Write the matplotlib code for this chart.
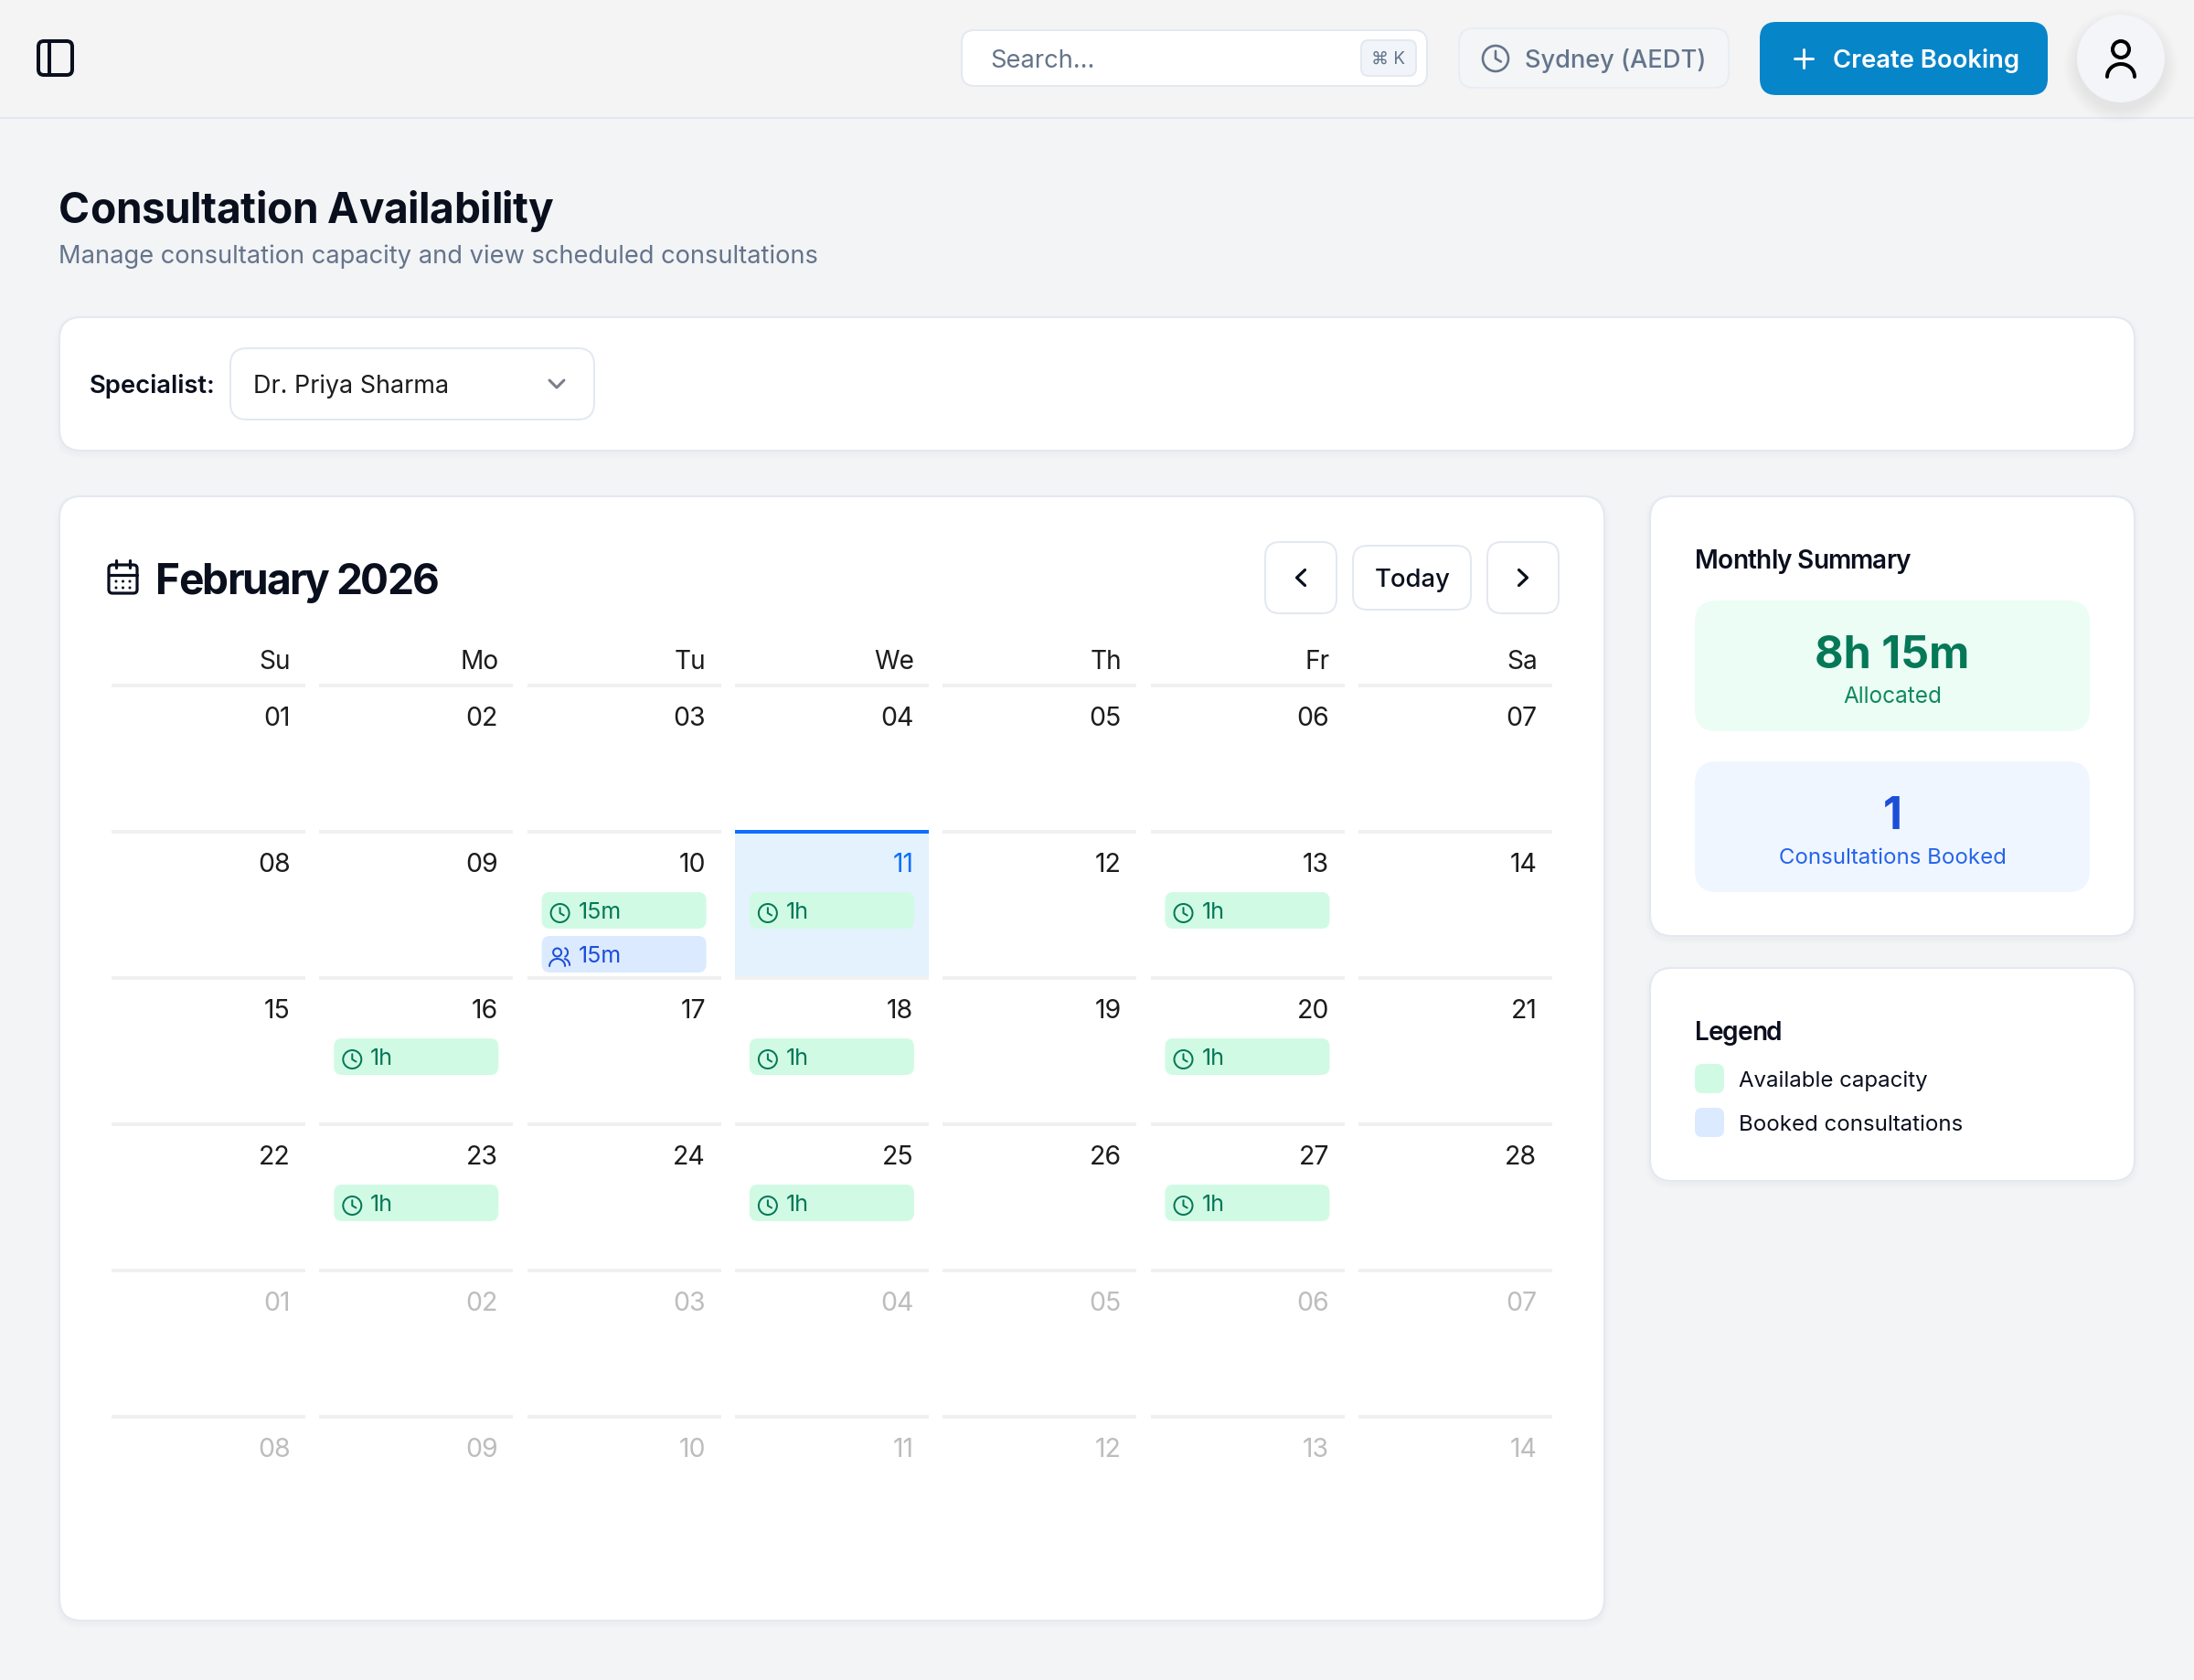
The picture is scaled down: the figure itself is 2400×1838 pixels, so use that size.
import numpy as np
import matplotlib
matplotlib.use("Agg")
import matplotlib.pyplot as plt
from matplotlib.patches import FancyBboxPatch, Circle
from matplotlib.text import Text

plt.rcParams["font.family"] = ["Inter", "DejaVu Sans"]

# ---- data ----
WEEKDAYS = ["Su", "Mo", "Tu", "We", "Th", "Fr", "Sa"]
DAY_ROWS = [
    ["01", "02", "03", "04", "05", "06", "07"],
    ["08", "09", "10", "11", "12", "13", "14"],
    ["15", "16", "17", "18", "19", "20", "21"],
    ["22", "23", "24", "25", "26", "27", "28"],
    ["01", "02", "03", "04", "05", "06", "07"],
    ["08", "09", "10", "11", "12", "13", "14"],
]
MUTED_ROWS = [4, 5]
TODAY_CELL = (1, 3)
AVAIL_CELLS = [(1, 2), (1, 3), (1, 5), (2, 1), (2, 3), (2, 5), (3, 1), (3, 3), (3, 5)]
AVAIL_LABELS = ["15m", "1h", "1h", "1h", "1h", "1h", "1h", "1h", "1h"]
BOOKED_CELLS = [(1, 2)]
BOOKED_LABELS = ["15m"]
LEGEND_LABELS = ["Available capacity", "Booked consultations"]

# ---- style ----
BG = "#f3f4f6"
HEADER = "#f4f4f4"
BORDER = "#e3e8f1"
INK = "#0a0f1e"
CELL_INK = "#1c1c1e"
SLATE = "#64748b"
MUTED = "#bdbdbd"
RULE = "#f0f0f0"
GREEN_BG = "#d1fae5"
GREEN_TX = "#047857"
GREEN_SOFT = "#0f8a5f"
BLUE_BG = "#dbeafe"
BLUE_TX = "#1d4ed8"
BLUE_SOFT = "#2563eb"
TODAY_BG = "#e3f2fd"
TODAY_BLUE = "#0d6efd"

fig = plt.figure(figsize=(24, 18.38), dpi=100, facecolor=BG)
ax = fig.add_axes([0, 0, 1, 1])
ax.set_xlim(0, 2400)
ax.set_ylim(1838, 0)
ax.axis("off")


def px(v):
    return v * 0.72


class TrackedText(Text):
    """Text with CSS-like letter spacing, for the tight headings."""

    def __init__(self, *args, tracking=0, **kwargs):
        super().__init__(*args, **kwargs)
        self.tracking = tracking

    def draw(self, renderer):
        s = self.get_text()
        x, y = self.get_position()
        for i, ch in enumerate(s):
            w = renderer.get_text_width_height_descent(s[:i], self.get_fontproperties(), False)[0] if i else 0
            t = Text(x + w + i * self.tracking, y, ch, fontproperties=self.get_fontproperties(),
                     color=self.get_color(), ha="left", va="baseline")
            t.set_figure(self.get_figure())
            t.set_transform(self.get_transform())
            t.draw(renderer)


def box(x0, y0, x1, y1, r, fc, ec="none", lw=0, z=2, alpha=None):
    p = FancyBboxPatch((x0, y0), x1 - x0, y1 - y0, boxstyle=f"round,pad=0,rounding_size={r}",
                       fc=fc, ec=ec, lw=px(lw), zorder=z, alpha=alpha)
    ax.add_patch(p)
    return p


def shadow(x0, y0, x1, y1, r, dy=3, spread=6, z=1.5):
    for i in range(spread, 0, -1):
        box(x0 - i, y0 - i + dy, x1 + i, y1 + i + dy, r + i, "#0f172a", z=z, alpha=0.005)


def card(x0, y0, x1, y1, r=24):
    shadow(x0, y0, x1, y1, r)
    box(x0, y0, x1, y1, r, "white", BORDER, 2, z=2)


def label(x, y, s, size, color=INK, weight="normal", ha="left", z=5, tracking=0):
    if tracking:
        t = TrackedText(x, y, s, fontsize=px(size), color=color, fontweight=weight, ha="left",
                        va="baseline", zorder=z, tracking=tracking)
        ax.add_artist(t)
    else:
        ax.text(x, y, s, fontsize=px(size), color=color, fontweight=weight, ha=ha, va="baseline", zorder=z)


def stroke(xs, ys, color, lw, z=6):
    ax.plot(xs, ys, color=color, lw=px(lw), solid_capstyle="round", solid_joinstyle="round", zorder=z)


def arc(cx, cy, rx, ry, t0, t1, color, lw, z=6):
    t = np.radians(np.linspace(t0, t1, 40))
    stroke(cx + rx * np.cos(t), cy + ry * np.sin(t), color, lw, z)


def clock(cx, cy, r, color, lw):
    ax.add_patch(Circle((cx, cy), r, fc="none", ec=color, lw=px(lw), zorder=6))
    stroke([cx, cx, cx + r * 0.42], [cy - r * 0.58, cy, cy + r * 0.25], color, lw)


def users(cx, cy, color, lw):
    ax.add_patch(Circle((cx - 3, cy - 4), 4.5, fc="none", ec=color, lw=px(lw), zorder=6))
    arc(cx - 3, cy + 11, 8.5, 8, 180, 360, color, lw)
    arc(cx + 4, cy - 4, 4.5, 5, -70, 70, color, lw)
    arc(cx + 4, cy + 10, 6.5, 7, 280, 360, color, lw)


def chevron(cx, cy, d, color, lw=3.2):
    # d: "l", "r" or "v" for the direction it points
    if d == "l":
        stroke([cx + 4.5, cx - 4.5, cx + 4.5], [cy - 8.5, cy, cy + 8.5], color, lw)
    elif d == "r":
        stroke([cx - 4.5, cx + 4.5, cx - 4.5], [cy - 8.5, cy, cy + 8.5], color, lw)
    else:
        stroke([cx - 8, cx, cx + 8], [cy - 4, cy + 4, cy - 4], color, lw)


# ---- top bar ----
ax.fill_between([0, 2400], 0, 128, color=HEADER, lw=0, zorder=1)
ax.plot([0, 2400], [129, 129], color="#e2e7f0", lw=px(2), zorder=1.2)

box(42, 45, 79, 82, 6, "none", INK, 4, z=6)
stroke([54, 54], [45, 82], INK, 4)

box(1052, 33, 1561, 94, 14, "white", BORDER, 2)
label(1083, 74, "Search...", 27.3, SLATE)
box(1489, 44, 1549, 83, 8, "#f1f5f9", BORDER, 2, z=3)
label(1519, 70, "⌘ K", 19, SLATE, ha="center")

box(1596, 31, 1891, 96, 16, "#f3f5f7", "#e9edf3", 2)
clock(1636, 64, 14, SLATE, 2.6)
label(1668, 74, "Sydney (AEDT)", 27.2, SLATE, "medium")

box(1925, 24, 2240, 104, 18, "#0785c9")
stroke([1973, 1973], [54, 74], "white", 3)
stroke([1963, 1983], [64, 64], "white", 3)
label(2005, 74, "Create Booking", 27.4, "white", "semibold")

for i in range(16, 0, -2):
    ax.add_patch(Circle((2320, 72), 46 + i, fc="#0f172a", ec="none", alpha=0.006, zorder=1.5))
ax.add_patch(Circle((2320, 64), 48, fc="#f3f5f8", ec="none", zorder=2))
ax.add_patch(Circle((2320, 54), 9, fc="none", ec="black", lw=px(4), zorder=6))
arc(2320, 84, 15, 14, 180, 360, "black", 4)

# ---- page title ----
label(64, 244, "Consultation Availability", 46, INK, "bold", tracking=-0.35)
label(64, 288, "Manage consultation capacity and view scheduled consultations", 27.3, SLATE)

# ---- specialist filter ----
card(65, 347, 2335, 493)
label(98, 430, "Specialist:", 27.4, INK, "semibold")
box(252, 381, 650, 459, 18, "white", BORDER, 2, z=3)
label(277, 430, "Dr. Priya Sharma", 27, CELL_INK)
chevron(609, 420, "v", "#7a7f87", lw=3)

# ---- calendar card ----
card(65, 543, 1755, 1773)

box(119, 618, 150, 649, 4, "none", INK, 3.2, z=6)
stroke([119, 150], [629, 629], INK, 3.2)
stroke([127, 127], [613, 621], INK, 3.2)
stroke([142, 142], [613, 621], INK, 3.2)
for yy in (636, 643):
    for xx in (127, 134.5, 142):
        ax.add_patch(Circle((xx, yy), 1.5, fc=INK, ec="none", zorder=6))
label(170, 650, "February 2026", 46, INK, "bold", tracking=-1.95)

box(1384, 593, 1462, 671, 16, "white", BORDER, 2, z=3)
chevron(1423, 632, "l", INK)
box(1480, 597, 1609, 667, 16, "white", BORDER, 2, z=3)
label(1545, 642, "Today", 27.4, INK, "medium", ha="center")
box(1627, 593, 1705, 671, 16, "white", BORDER, 2, z=3)
chevron(1666, 632, "r", INK)

COL_X = 122 + 227.3 * np.arange(7)
COL_W = 212
ROW_Y = 748 + 160 * np.arange(6)

for c, name in enumerate(WEEKDAYS):
    label(COL_X[c] + COL_W - 16, 732, name, 28, CELL_INK, ha="right")

r_t, c_t = TODAY_CELL
ax.fill_between([COL_X[c_t], COL_X[c_t] + COL_W], ROW_Y[r_t] + 4, ROW_Y[r_t] + 160, color=TODAY_BG, lw=0, zorder=2.5)

for r, row in enumerate(DAY_ROWS):
    for c, day in enumerate(row):
        top = ROW_Y[r]
        is_today = (r, c) == TODAY_CELL
        ax.fill_between([COL_X[c], COL_X[c] + COL_W], top, top + 4,
                        color=TODAY_BLUE if is_today else RULE, lw=0, zorder=3)
        tx = TODAY_BLUE if is_today else (MUTED if r in MUTED_ROWS else CELL_INK)
        label(COL_X[c] + COL_W - 16.5, top + 46, day, 28.5, tx, ha="right")

for (r, c), text in zip(AVAIL_CELLS, AVAIL_LABELS):
    x0, top = COL_X[c] + 16, ROW_Y[r] + 68
    box(x0, top, x0 + COL_W - 32, top + 40, 9, GREEN_BG, z=4)
    clock(x0 + 20, top + 23, 10, GREEN_TX, 2)
    label(x0 + 40, top + 29, text, 25, GREEN_TX)

for (r, c), text in zip(BOOKED_CELLS, BOOKED_LABELS):
    x0, top = COL_X[c] + 16, ROW_Y[r] + 116
    box(x0, top, x0 + COL_W - 32, top + 40, 9, BLUE_BG, z=4)
    users(x0 + 20, top + 22, BLUE_TX, 2)
    label(x0 + 40, top + 29, text, 25, BLUE_TX)

# ---- summary ----
card(1805, 543, 2335, 1024)
label(1854, 622, "Monthly Summary", 28, INK, "semibold", tracking=-0.8)
box(1854, 657, 2286, 800, 24, "#ecfdf5")
label(2070, 731, "8h 15m", 48.5, GREEN_TX, "bold", ha="center")
label(2070, 769, "Allocated", 24.3, GREEN_SOFT, ha="center")
box(1854, 833, 2286, 976, 24, "#eff6ff")
label(2070, 907, "1", 48.5, BLUE_TX, "bold", ha="center")
label(2070, 945, "Consultations Booked", 24, BLUE_SOFT, ha="center")

# ---- legend ----
card(1805, 1059, 2335, 1292)
label(1854, 1138, "Legend", 28, INK, "semibold", tracking=-1.2)
for i, (text, color) in enumerate(zip(LEGEND_LABELS, [GREEN_BG, BLUE_BG])):
    y0 = 1164 + 48 * i
    box(1854, y0, 1886, y0 + 32, 8, color, z=4)
    label(1902.5, y0 + 25, text, 24, INK)

fig.savefig("out.png", dpi=100, facecolor=BG)
